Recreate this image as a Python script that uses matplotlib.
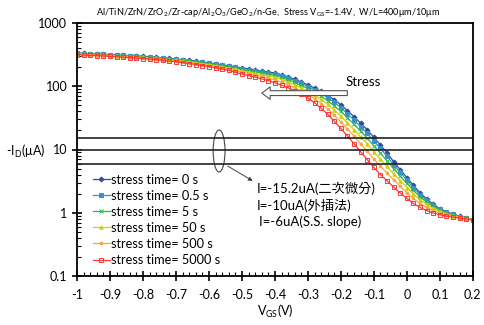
import matplotlib
matplotlib.use("Agg")
import matplotlib.pyplot as plt
import numpy as np
from matplotlib.patches import Ellipse

plt.rcParams['font.family'] = ['Lato', 'Noto Sans CJK TC', 'DejaVu Sans']
plt.rcParams['mathtext.default'] = 'regular'

# VGS grid (V), one sample per 0.02 V
vgs = np.round(np.arange(-1.0, 0.2001, 0.02), 2)

# -Id (uA) for each stress time
id_0s = [335, 332, 329, 326, 322, 318, 314, 310, 306, 302, 298, 293, 288, 282, 276, 270,
         263, 256, 249, 242, 235, 227, 219, 211, 203, 195, 189, 182, 175, 169, 162, 152,
         141, 129, 117, 105, 94, 83, 72, 61, 51, 41, 33, 26, 20.5, 15.5, 11.8, 8.8,
         6.4, 4.8, 3.6, 2.7, 2.06, 1.65, 1.36, 1.16, 1.03, 0.95, 0.88, 0.82, 0.78]
id_05s = [333, 330, 327, 323, 319, 315, 311, 307, 303, 299, 295, 290, 285, 279, 273, 267,
          260, 253, 246, 239, 231, 223, 215, 207, 199, 190, 184, 177, 170, 163, 156, 146,
          135, 123, 111, 99, 88, 77, 66, 56, 46, 36.7, 29.3, 23.0, 18.0, 13.6, 10.4, 7.8,
          5.7, 4.33, 3.28, 2.49, 1.93, 1.57, 1.31, 1.13, 1.01, 0.94, 0.87, 0.82, 0.78]
id_5s = [329, 326, 323, 320, 316, 312, 308, 304, 300, 296, 291, 286, 281, 275, 269, 263,
         256, 248, 241, 234, 227, 218, 210, 202, 193, 184, 177, 170, 163, 156, 148, 138,
         127, 115, 103, 92, 81, 70, 59, 49, 40, 31.7, 25.0, 19.4, 15.1, 11.4, 8.7, 6.6,
         4.95, 3.78, 2.91, 2.25, 1.78, 1.47, 1.25, 1.09, 0.99, 0.92, 0.86, 0.81, 0.78]
id_50s = [325, 322, 319, 316, 312, 308, 304, 299, 295, 291, 286, 281, 276, 270, 264, 258,
          251, 243, 236, 228, 221, 212, 204, 195, 186, 176, 169, 161, 153, 146, 138, 128,
          117, 105, 94, 83, 72, 62, 52, 42, 33.7, 26.3, 20.6, 15.8, 12.2, 9.2, 7.0, 5.4,
          4.1, 3.19, 2.5, 1.97, 1.60, 1.35, 1.17, 1.05, 0.96, 0.90, 0.85, 0.81, 0.78]
id_500s = [321, 318, 315, 311, 307, 303, 299, 294, 290, 285, 281, 276, 270, 264, 258, 252,
           244, 237, 229, 221, 213, 205, 196, 187, 177, 167, 159, 151, 143, 135, 126, 116,
           106, 95, 85, 74, 64, 53, 44, 35, 27.4, 21.1, 16.2, 12.3, 9.4, 7.1, 5.4, 4.25,
           3.3, 2.6, 2.08, 1.68, 1.40, 1.22, 1.09, 0.99, 0.92, 0.88, 0.84, 0.80, 0.77]
id_5000s = [315, 312, 309, 305, 301, 297, 293, 288, 284, 279, 274, 269, 263, 257, 251, 245,
            237, 229, 221, 213, 205, 196, 187, 178, 167, 156, 147, 139, 131, 123, 114, 104,
            95, 85, 75, 65, 55, 45, 36, 28, 21.5, 16.3, 12.3, 9.2, 6.9, 5.2, 4.0, 3.2,
            2.55, 2.05, 1.68, 1.40, 1.21, 1.08, 0.99, 0.93, 0.88, 0.85, 0.82, 0.79, 0.77]

labels = ['stress time= 0 s', 'stress time= 0.5 s', 'stress time= 5 s',
          'stress time= 50 s', 'stress time= 500 s', 'stress time= 5000 s']
series = [id_0s, id_05s, id_5s, id_50s, id_500s, id_5000s]
colors = ['#2F4F8F', '#3A8FD0', '#2DB84C', '#D4D000', '#F7A545', '#FF3535']
markers = ['D', 's', 'x', '^', '*', 's']

# extraction current levels (uA)
levels = [15.2, 10, 6]

fig = plt.figure(figsize=(4.84, 3.25), dpi=100)
ax = fig.add_axes([0.159, 0.151, 0.818, 0.778])

for y, lab, c, m in zip(series, labels, colors, markers):
    mfc = 'none' if lab.endswith('5000 s') else c
    ax.plot(vgs, y, color=c, marker=m, markersize=2.5, markerfacecolor=mfc,
            markeredgewidth=0.7, linewidth=0.9, label=lab)

for lv in levels:
    ax.axhline(lv, color='#222222', linewidth=1.2)

ax.set_yscale('log')
ax.set_xlim(-1, 0.2)
ax.set_ylim(0.1, 1000)
ax.set_xticks(np.round(np.arange(-1.0, 0.201, 0.1), 1))
ax.set_xticklabels(['-1', '-0.9', '-0.8', '-0.7', '-0.6', '-0.5', '-0.4', '-0.3',
                    '-0.2', '-0.1', '0', '0.1', '0.2'])
ax.set_xticks(np.arange(-1.0, 0.201, 0.02), minor=True)
ax.set_yticks([0.1, 1, 10, 100, 1000])
ax.set_yticklabels(['0.1', '1', '10', '100', '1000'])
ax.tick_params(which='major', direction='inout', length=7, width=1.2, labelsize=9)
ax.tick_params(which='minor', direction='in', length=3, width=0.8)
ax.tick_params(axis='x', pad=6)
for s in ax.spines.values():
    s.set_linewidth(1.3)

ax.set_xlabel('V$_{GS}$(V)', fontsize=9, labelpad=1)
fig.text(0.052, 0.535, '-I$_D$(μA)', fontsize=9, ha='center', va='center')

fig.text(0.555, 0.962, 'Al/TiN/ZrN/ZrO$_2$/Zr-cap/Al$_2$O$_3$/GeO$_2$/n-Ge,  Stress V$_{GS}$=-1.4V,  W/L=400μm/10μm',
         ha='center', va='center', fontsize=6.6)

ax.legend(loc='upper left', bbox_to_anchor=(0.028, 0.425), frameon=False, fontsize=9.2,
          handlelength=1.3, handletextpad=0.1, labelspacing=0.32, borderaxespad=0)

# ellipse around the three current levels and pointer to the text
ax.add_patch(Ellipse((0.359, 0.494), 0.030, 0.166, transform=ax.transAxes,
                     fill=False, edgecolor='#444444', linewidth=0.8))
ax.annotate('', xy=(0.45, 0.37), xytext=(0.375, 0.44), xycoords='axes fraction',
            arrowprops=dict(arrowstyle='-|>', color='#444444', lw=0.7, mutation_scale=6))
ax.text(0.455, 0.345, 'I=-15.2uA(二次微分)', transform=ax.transAxes, fontsize=9.5, va='center')
ax.text(0.455, 0.28, 'I=-10uA(外插法)', transform=ax.transAxes, fontsize=9.5, va='center')
ax.text(0.46, 0.215, 'I=-6uA(S.S. slope)', transform=ax.transAxes, fontsize=9.5, va='center')

# stress shift arrow
ax.annotate('', xy=(0.46, 0.723), xytext=(0.69, 0.723), xycoords='axes fraction',
            arrowprops=dict(arrowstyle='simple,head_length=0.6,head_width=0.9,tail_width=0.35',
                            facecolor='white', edgecolor='#555555', lw=0.8, mutation_scale=10))
ax.text(0.722, 0.765, 'Stress', transform=ax.transAxes, fontsize=9.5, ha='center', va='center')

fig.savefig('out.png', dpi=100)
